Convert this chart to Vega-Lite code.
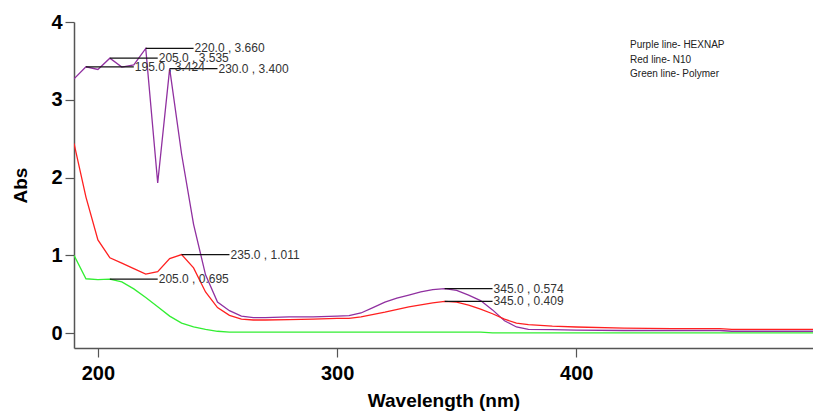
{
  "$schema": "https://vega.github.io/schema/vega-lite/v6.json",
  "width": 739,
  "height": 326,
  "autosize": {"type": "none"},
  "padding": {"left": 74, "top": 22, "right": 0, "bottom": 64},
  "background": "white",
  "config": {
    "view": {"stroke": null},
    "font": "Liberation Sans",
    "axis": {
      "grid": false,
      "domainColor": "#555555",
      "domainWidth": 1.5,
      "tickColor": "#555555",
      "tickWidth": 1.2,
      "tickSize": 9,
      "labelFont": "Liberation Sans",
      "labelFontWeight": "bold",
      "labelFontSize": 20,
      "labelColor": "#000000",
      "titleFont": "Liberation Sans",
      "titleFontWeight": "bold",
      "titleFontSize": 19,
      "titleColor": "#000000"
    }
  },
  "datasets": {
    "spectra": [
      {"series": "HEXNAP", "wl": 190, "abs": 3.27},
      {"series": "HEXNAP", "wl": 195, "abs": 3.424},
      {"series": "HEXNAP", "wl": 200, "abs": 3.39},
      {"series": "HEXNAP", "wl": 205, "abs": 3.535},
      {"series": "HEXNAP", "wl": 210, "abs": 3.42},
      {"series": "HEXNAP", "wl": 215, "abs": 3.45},
      {"series": "HEXNAP", "wl": 220, "abs": 3.66},
      {"series": "HEXNAP", "wl": 225, "abs": 1.93},
      {"series": "HEXNAP", "wl": 230, "abs": 3.4},
      {"series": "HEXNAP", "wl": 235, "abs": 2.3},
      {"series": "HEXNAP", "wl": 240, "abs": 1.4},
      {"series": "HEXNAP", "wl": 245, "abs": 0.75},
      {"series": "HEXNAP", "wl": 250, "abs": 0.4},
      {"series": "HEXNAP", "wl": 255, "abs": 0.29},
      {"series": "HEXNAP", "wl": 260, "abs": 0.22},
      {"series": "HEXNAP", "wl": 265, "abs": 0.2},
      {"series": "HEXNAP", "wl": 270, "abs": 0.2},
      {"series": "HEXNAP", "wl": 280, "abs": 0.21},
      {"series": "HEXNAP", "wl": 290, "abs": 0.21},
      {"series": "HEXNAP", "wl": 300, "abs": 0.22},
      {"series": "HEXNAP", "wl": 305, "abs": 0.225},
      {"series": "HEXNAP", "wl": 310, "abs": 0.26},
      {"series": "HEXNAP", "wl": 315, "abs": 0.33},
      {"series": "HEXNAP", "wl": 320, "abs": 0.4},
      {"series": "HEXNAP", "wl": 325, "abs": 0.45},
      {"series": "HEXNAP", "wl": 330, "abs": 0.49},
      {"series": "HEXNAP", "wl": 335, "abs": 0.53},
      {"series": "HEXNAP", "wl": 340, "abs": 0.56},
      {"series": "HEXNAP", "wl": 345, "abs": 0.574},
      {"series": "HEXNAP", "wl": 350, "abs": 0.55},
      {"series": "HEXNAP", "wl": 355, "abs": 0.49},
      {"series": "HEXNAP", "wl": 360, "abs": 0.42},
      {"series": "HEXNAP", "wl": 365, "abs": 0.3},
      {"series": "HEXNAP", "wl": 370, "abs": 0.16},
      {"series": "HEXNAP", "wl": 375, "abs": 0.08},
      {"series": "HEXNAP", "wl": 380, "abs": 0.05},
      {"series": "HEXNAP", "wl": 390, "abs": 0.045},
      {"series": "HEXNAP", "wl": 400, "abs": 0.04},
      {"series": "HEXNAP", "wl": 420, "abs": 0.035},
      {"series": "HEXNAP", "wl": 440, "abs": 0.035},
      {"series": "HEXNAP", "wl": 460, "abs": 0.035},
      {"series": "HEXNAP", "wl": 465, "abs": 0.025},
      {"series": "HEXNAP", "wl": 500, "abs": 0.025},
      {"series": "N10", "wl": 190, "abs": 2.44},
      {"series": "N10", "wl": 195, "abs": 1.75},
      {"series": "N10", "wl": 200, "abs": 1.2},
      {"series": "N10", "wl": 205, "abs": 0.97},
      {"series": "N10", "wl": 210, "abs": 0.9},
      {"series": "N10", "wl": 215, "abs": 0.83},
      {"series": "N10", "wl": 220, "abs": 0.76},
      {"series": "N10", "wl": 225, "abs": 0.79},
      {"series": "N10", "wl": 230, "abs": 0.96},
      {"series": "N10", "wl": 235, "abs": 1.011},
      {"series": "N10", "wl": 240, "abs": 0.84},
      {"series": "N10", "wl": 245, "abs": 0.53},
      {"series": "N10", "wl": 250, "abs": 0.33},
      {"series": "N10", "wl": 255, "abs": 0.23},
      {"series": "N10", "wl": 260, "abs": 0.18},
      {"series": "N10", "wl": 265, "abs": 0.17},
      {"series": "N10", "wl": 270, "abs": 0.17},
      {"series": "N10", "wl": 280, "abs": 0.175},
      {"series": "N10", "wl": 290, "abs": 0.18},
      {"series": "N10", "wl": 300, "abs": 0.19},
      {"series": "N10", "wl": 305, "abs": 0.19},
      {"series": "N10", "wl": 310, "abs": 0.21},
      {"series": "N10", "wl": 320, "abs": 0.27},
      {"series": "N10", "wl": 330, "abs": 0.34},
      {"series": "N10", "wl": 340, "abs": 0.39},
      {"series": "N10", "wl": 345, "abs": 0.409},
      {"series": "N10", "wl": 350, "abs": 0.4},
      {"series": "N10", "wl": 355, "abs": 0.36},
      {"series": "N10", "wl": 360, "abs": 0.31},
      {"series": "N10", "wl": 365, "abs": 0.25},
      {"series": "N10", "wl": 370, "abs": 0.18},
      {"series": "N10", "wl": 375, "abs": 0.13},
      {"series": "N10", "wl": 380, "abs": 0.11},
      {"series": "N10", "wl": 390, "abs": 0.09},
      {"series": "N10", "wl": 400, "abs": 0.08},
      {"series": "N10", "wl": 420, "abs": 0.065},
      {"series": "N10", "wl": 440, "abs": 0.06},
      {"series": "N10", "wl": 460, "abs": 0.06},
      {"series": "N10", "wl": 465, "abs": 0.05},
      {"series": "N10", "wl": 500, "abs": 0.05},
      {"series": "Polymer", "wl": 190, "abs": 1.0},
      {"series": "Polymer", "wl": 195, "abs": 0.7},
      {"series": "Polymer", "wl": 200, "abs": 0.69},
      {"series": "Polymer", "wl": 205, "abs": 0.695},
      {"series": "Polymer", "wl": 210, "abs": 0.66},
      {"series": "Polymer", "wl": 215, "abs": 0.57},
      {"series": "Polymer", "wl": 220, "abs": 0.46},
      {"series": "Polymer", "wl": 225, "abs": 0.34},
      {"series": "Polymer", "wl": 230, "abs": 0.22},
      {"series": "Polymer", "wl": 235, "abs": 0.13},
      {"series": "Polymer", "wl": 240, "abs": 0.08},
      {"series": "Polymer", "wl": 245, "abs": 0.05},
      {"series": "Polymer", "wl": 250, "abs": 0.025},
      {"series": "Polymer", "wl": 255, "abs": 0.015},
      {"series": "Polymer", "wl": 300, "abs": 0.015},
      {"series": "Polymer", "wl": 360, "abs": 0.015},
      {"series": "Polymer", "wl": 365, "abs": 0.005},
      {"series": "Polymer", "wl": 500, "abs": 0.005}
    ],
    "peaks": [
      {"wl": 220, "abs": 3.66, "label": "220.0 , 3.660"},
      {"wl": 205, "abs": 3.535, "label": "205.0 , 3.535"},
      {"wl": 195, "abs": 3.424, "label": "195.0 , 3.424"},
      {"wl": 230, "abs": 3.4, "label": "230.0 , 3.400"},
      {"wl": 235, "abs": 1.011, "label": "235.0 , 1.011"},
      {"wl": 205, "abs": 0.695, "label": "205.0 , 0.695"},
      {"wl": 345, "abs": 0.574, "label": "345.0 , 0.574"},
      {"wl": 345, "abs": 0.409, "label": "345.0 , 0.409"}
    ],
    "notes": [
      {"wl": 422.5, "abs": 3.7, "text": "Purple line- HEXNAP"},
      {"wl": 422.5, "abs": 3.51, "text": "Red line- N10"},
      {"wl": 422.5, "abs": 3.33, "text": "Green line- Polymer"}
    ]
  },
  "layer": [
    {
      "data": {"name": "spectra"},
      "mark": {"type": "line", "strokeWidth": 1.3, "clip": true},
      "encoding": {
        "x": {
          "field": "wl", "type": "quantitative",
          "scale": {"domain": [190, 499], "nice": false, "zero": false},
          "axis": {"values": [200, 300, 400], "format": "d", "title": "Wavelength (nm)", "titlePadding": 8, "labelPadding": 6}
        },
        "y": {
          "field": "abs", "type": "quantitative",
          "scale": {"domain": [-0.19, 4], "nice": false, "zero": false},
          "axis": {"values": [0, 1, 2, 3, 4], "format": "d", "title": "Abs", "titlePadding": 20, "labelPadding": 3}
        },
        "color": {
          "field": "series", "type": "nominal",
          "scale": {"domain": ["HEXNAP", "N10", "Polymer"], "range": ["#9030a0", "#ff2020", "#33ee33"]},
          "legend": null
        }
      }
    },
    {
      "data": {"name": "peaks"},
      "transform": [{"calculate": "datum.wl + 20", "as": "wl_end"}],
      "mark": {"type": "rule", "color": "#111111", "strokeWidth": 1.2},
      "encoding": {
        "x": {"field": "wl", "type": "quantitative"},
        "x2": {"field": "wl_end"},
        "y": {"field": "abs", "type": "quantitative"}
      }
    },
    {
      "data": {"name": "peaks"},
      "transform": [{"calculate": "datum.wl + 20", "as": "wl_end"}],
      "mark": {"type": "text", "align": "left", "baseline": "middle", "dx": 1, "fontSize": 12, "color": "#333333", "font": "Liberation Sans"},
      "encoding": {
        "x": {"field": "wl_end", "type": "quantitative"},
        "y": {"field": "abs", "type": "quantitative"},
        "text": {"field": "label"}
      }
    },
    {
      "data": {"name": "notes"},
      "mark": {"type": "text", "align": "left", "baseline": "middle", "fontSize": 10, "color": "#222222", "font": "Liberation Sans"},
      "encoding": {
        "x": {"field": "wl", "type": "quantitative"},
        "y": {"field": "abs", "type": "quantitative"},
        "text": {"field": "text"}
      }
    }
  ]
}
